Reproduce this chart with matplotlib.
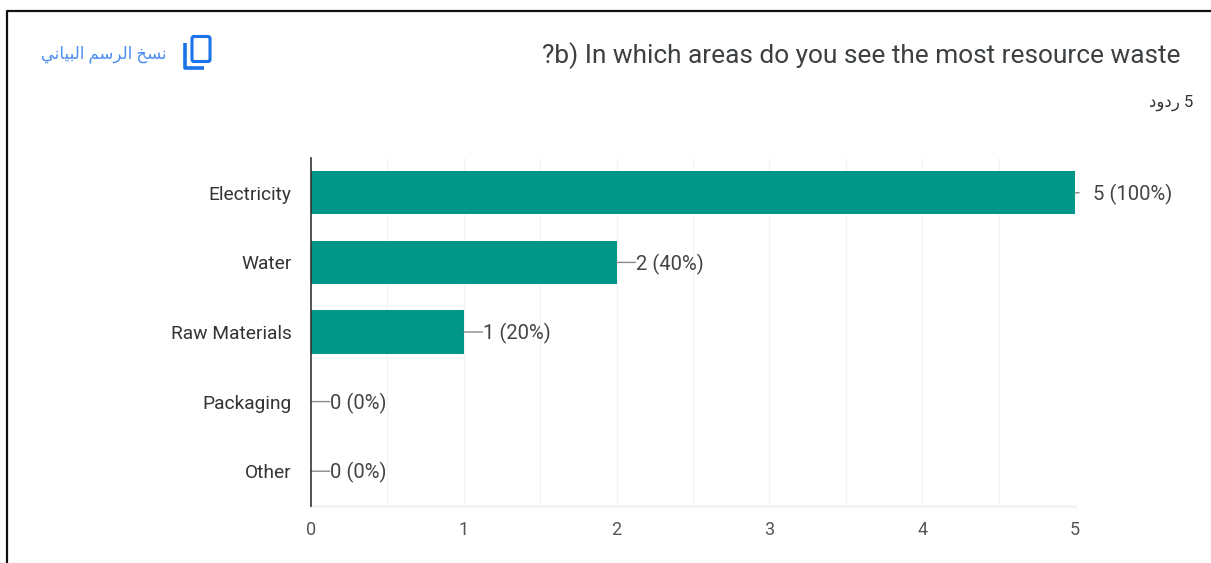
import matplotlib
matplotlib.use('Agg')
import matplotlib.pyplot as plt
from matplotlib.lines import Line2D
from matplotlib.patches import FancyBboxPatch

W, H = 1211, 563

categories = ['Electricity', 'Water', 'Raw Materials', 'Packaging', 'Other']
counts = [5, 2, 1, 0, 0]
percents = [100, 40, 20, 0, 0]
x_ticks = [0, 1, 2, 3, 4, 5]
grid_ticks = [0.5, 1, 1.5, 2, 2.5, 3, 3.5, 4, 4.5, 5]

title = '?b) In which areas do you see the most resource waste'
# Arabic written as shaped forms in visual order, matplotlib doesn't do bidi
copy_label = '\ufef2\ufee7\ufe8e\ufef4\ufe92\ufedf\ufe8d \ufee2\ufeb3\ufeae\ufedf\ufe8d \ufea6\ufeb4\ufee7'
replies_word = '\ufea9\ufeed\ufea9\ufead'

plt.rcParams['font.family'] = ['Roboto', 'DejaVu Sans']

fig = plt.figure(figsize=(W / 100, H / 100), dpi=100, facecolor='white')


def fx(x):
    return x / W


def fy(y):
    return 1 - y / H  # y measured from the top of the picture


ax = fig.add_axes([fx(311), fy(506), fx(1075) - fx(311), (506 - 158) / H])
ypos = list(range(len(categories)))
ax.barh(ypos, counts, height=0.62, color='#009688', zorder=3)
ax.set_xlim(0, 5)
ax.set_ylim(len(categories) - 0.5, -0.5)

for g in grid_ticks:
    ax.axvline(g, color='#f3f3f3', lw=0.9, zorder=1)
ax.axhline(len(categories) - 0.5, color='#f3f3f3', lw=2, zorder=1, clip_on=False)

for s in ['top', 'right', 'bottom']:
    ax.spines[s].set_visible(False)
ax.spines['left'].set_color('#333333')
ax.spines['left'].set_linewidth(1.2)
ax.spines['left'].set_zorder(5)

ax.set_yticks(ypos)
ax.set_yticklabels(categories, fontsize=13.8, color='#333333', va='center_baseline')
ax.set_xticks(x_ticks)
ax.set_xticklabels([str(t) for t in x_ticks], fontsize=13, color='#555555')
ax.tick_params(axis='y', length=0, pad=14)
ax.tick_params(axis='x', length=0, pad=11)

# value labels with the little leader line from the bar end
for i in ypos:
    label = f'{counts[i]} ({percents[i]}%)'
    gap = 13 if counts[i] == 5 else 14
    stub = 3 if counts[i] == 5 else gap - 0.5
    ax.annotate(label, xy=(counts[i], i), xytext=(gap, 0.5), textcoords='offset points',
                ha='left', va='center_baseline', fontsize=14.6, color='#444444', annotation_clip=False)
    ax.annotate('', xy=(counts[i], i), xytext=(stub, 0), textcoords='offset points', annotation_clip=False,
                arrowprops=dict(arrowstyle='-', color='#888888', lw=1, shrinkA=0, shrinkB=0))

fig.text(fx(1180), fy(56), title, ha='right', va='center', fontsize=18.95, color='#3c4043')
fig.text(fx(1193), fy(103), replies_word + ' 5', ha='right', va='center', fontsize=12,
         color='#333333')
fig.text(fx(167), fy(54), copy_label, ha='right', va='center', fontsize=12, color='#4a8df0')

# copy icon, two rounded outlines
blue = '#1a73e8'
icon_ax = fig.add_axes([0, 0, 1, 1], facecolor='none')
icon_ax.set_xlim(0, W)
icon_ax.set_ylim(H, 0)
icon_ax.axis('off')
front = FancyBboxPatch((192, 36.5), 18, 25, boxstyle='round,pad=0,rounding_size=2', fill=False,
                       edgecolor=blue, lw=2.2)
icon_ax.add_patch(front)
icon_ax.plot([185, 185, 203.5], [42.5, 67.5, 67.5], color=blue, lw=2.6, solid_joinstyle='round',
             solid_capstyle='butt')

# black frame of the screenshot
fig.add_artist(Line2D([fx(6.5), fx(6.5), 1], [0, fy(10.5), fy(10.5)], color='#111111', lw=1.6))

fig.savefig('out.png', dpi=100)
